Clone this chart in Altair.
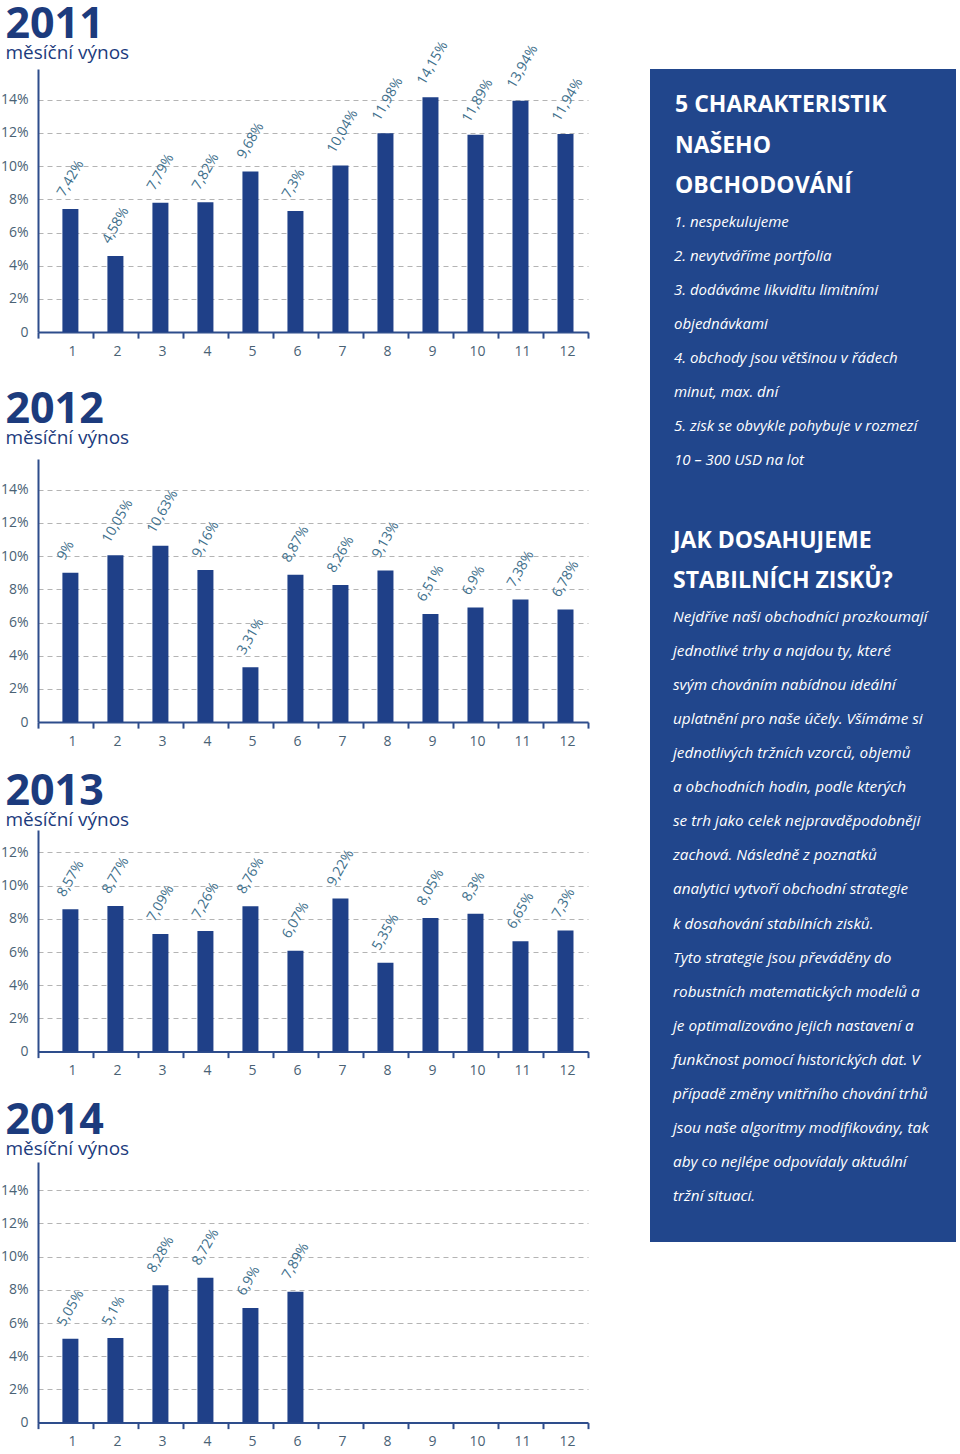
import altair as alt
import pandas as pd

# ---------------- data ----------------
MONTHS = list(range(1, 13))
R2011 = [7.42, 4.58, 7.79, 7.82, 9.68, 7.3, 10.04, 11.98, 14.15, 11.89, 13.94, 11.94]
R2012 = [9, 10.05, 10.63, 9.16, 3.31, 8.87, 8.26, 9.13, 6.51, 6.9, 7.38, 6.78]
R2013 = [8.57, 8.77, 7.09, 7.26, 8.76, 6.07, 9.22, 5.35, 8.05, 8.3, 6.65, 7.3]
R2014 = [5.05, 5.1, 8.28, 8.72, 6.9, 7.89]
YEARS = ["2011", "2012", "2013", "2014"]
SUBTITLE = "měsíční výnos"
Y_TICKS_14 = [0, 2, 4, 6, 8, 10, 12, 14]
Y_TICKS_12 = [0, 2, 4, 6, 8, 10, 12]

HEAD1 = ["5 CHARAKTERISTIK", "NAŠEHO", "OBCHODOVÁNÍ"]
LIST1 = [
    "1. nespekulujeme",
    "2. nevytváříme portfolia",
    "3. dodáváme likviditu limitními",
    "objednávkami",
    "4. obchody jsou  většinou v řádech",
    "minut, max. dní",
    "5. zisk se obvykle pohybuje v rozmezí",
    "10 – 300 USD na lot",
]
HEAD2 = ["JAK DOSAHUJEME", "STABILNÍCH ZISKŮ?"]
BODY2 = [
    "Nejdříve naši obchodníci prozkoumají",
    "jednotlivé trhy a najdou ty, které",
    "svým chováním nabídnou ideální",
    "uplatnění pro naše účely. Všímáme si",
    "jednotlivých tržních vzorců, objemů",
    "a obchodních hodin, podle kterých",
    "se trh jako celek nejpravděpodobněji",
    "zachová. Následně z poznatků",
    "analytici vytvoří obchodní strategie",
    "k dosahování stabilních zisků.",
    "Tyto strategie jsou převáděny do",
    "robustních matematických modelů a",
    "je optimalizováno jejich nastavení a",
    "funkčnost pomocí historických dat. V",
    "případě změny vnitřního chování trhů",
    "jsou naše algoritmy modifikovány, tak",
    "aby co nejlépe odpovídaly aktuální",
    "tržní situaci.",
]

# ---------------- style ----------------
FONT = "Open Sans"
BAR = "#1f4088"
TITLE_C = "#1c3b7d"
AXIS_C = "#2e4d8c"
TICK_LABEL_C = "#4a6275"
DATA_LABEL_C = "#41708c"
GRID_C = "#b4b4b4"
PANEL_C = "#21468c"
PX_PER_PCT = 16.6
PLOT_W = 550
X_DOMAIN = [0.28, 12.5]
X_TICKS = [0.28] + [m + 0.5 for m in MONTHS]


def year_chart(year, values, ymax, yticks, title_offset, extra_bottom=0):
    df = pd.DataFrame({"month": MONTHS[: len(values)], "value": values})
    df["label"] = [f"{v:g}".replace(".", ",") + "%" for v in values]
    xaxis_kw = dict(
        values=X_TICKS,
        tickCount=len(X_TICKS) + 4,
        labelExpr="datum.value < 1 ? '' : format(datum.value - 0.5, 'd')",
        labelOffset=-21,
        labelOverlap=False,
        labelFlush=False,
        grid=False,
        tickSize=6,
        tickWidth=2,
        tickColor=AXIS_C,
        domainColor=AXIS_C,
        domainWidth=2,
        labelColor=TICK_LABEL_C,
        labelFontSize=14,
        labelFont=FONT,
        labelPadding=6,
    )
    if extra_bottom:
        xaxis_kw.update(title=".", titleOpacity=0, titleFontSize=extra_bottom - 2,
                        titlePadding=2)
    else:
        xaxis_kw.update(title=None)
    x = alt.X(
        "month:Q",
        scale=alt.Scale(domain=X_DOMAIN, nice=False, zero=False, padding=0),
        axis=alt.Axis(**xaxis_kw),
    )
    y = alt.Y(
        "value:Q",
        scale=alt.Scale(domain=[0, ymax], nice=False, zero=True),
        axis=alt.Axis(
            values=yticks,
            tickCount=len(yticks) + 4,
            labelExpr="datum.value == 0 ? '0' : datum.value + '%'",
            labelOverlap=False,
            labelFlush=False,
            title=None,
            grid=True,
            gridDash=[5, 4],
            gridColor=GRID_C,
            gridWidth=1,
            ticks=False,
            domainColor=AXIS_C,
            domainWidth=2,
            labelPadding=10,
            labelFontSize=14,
            labelFont=FONT,
            labelColor=TICK_LABEL_C,
        ),
    )
    bars = alt.Chart(df).mark_bar(size=16, color=BAR).encode(x=x, y=y)
    text = alt.Chart(df).mark_text(
        angle=300, align="left", baseline="alphabetic", dx=7, dy=-11,
        fontSize=14, color=DATA_LABEL_C, font=FONT,
    ).encode(x="month:Q", y="value:Q", text="label:N")
    return alt.layer(bars, text).properties(
        width=PLOT_W,
        height=ymax * PX_PER_PCT,
        title=alt.TitleParams(
            text=year,
            subtitle=SUBTITLE,
            anchor="start",
            frame="bounds",
            font=FONT,
            fontSize=43,
            fontWeight="bold",
            color=TITLE_C,
            subtitleFont=FONT,
            subtitleFontSize=19,
            subtitleColor=TITLE_C,
            subtitlePadding=-3,
            offset=title_offset,
            dx=5,
        ),
    )


c11 = year_chart(YEARS[0], R2011, 15.85, Y_TICKS_14, -24, extra_bottom=8)
c12 = year_chart(YEARS[1], R2012, 15.85, Y_TICKS_14, 11)
c13 = year_chart(YEARS[2], R2013, 13.35, Y_TICKS_12, 0)
c14 = year_chart(YEARS[3], R2014, 15.7, Y_TICKS_14, 3)

left = alt.vconcat(c11, c12, c13, c14, spacing=22)

one = pd.DataFrame({"k": [0]})


def text_block(lines, x, y, size, weight, style, lh):
    return alt.Chart(one).mark_text(
        text=lines, lineHeight=lh, fontSize=size, fontWeight=weight,
        fontStyle=style, color="white", align="left", baseline="alphabetic",
        font=FONT,
    ).encode(x=alt.value(x), y=alt.value(y))


panel = alt.layer(
    text_block(HEAD1, 25, 43, 23, "bold", "normal", 40.5),
    text_block(LIST1, 24, 158, 15, "normal", "italic", 34),
    text_block(HEAD2, 23, 479, 23, "bold", "normal", 40),
    text_block(BODY2, 23, 553, 15.3, "normal", "italic", 34.06),
).properties(
    width=306,
    height=1173,
    view=alt.ViewBackground(fill=PANEL_C, strokeWidth=0),
)

chart = alt.hconcat(left, panel, spacing=61).properties(
    padding={"left": 0, "top": 4, "right": 0, "bottom": 0},
    background="white",
).configure_view(stroke="transparent", strokeWidth=0)

chart.save("out.html", embed_options={"renderer": "svg", "actions": False})
